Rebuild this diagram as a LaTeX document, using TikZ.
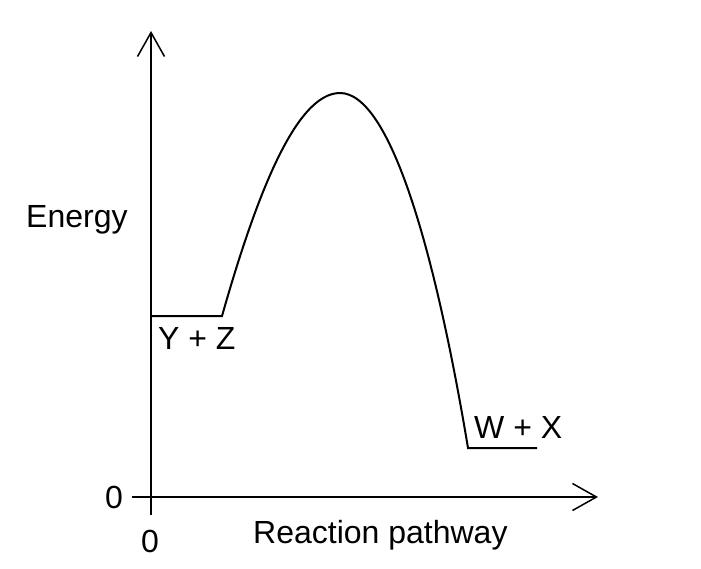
\documentclass[tikz,border=0pt]{standalone}
\usepackage{fontspec}
\setmainfont{Liberation Sans}
\usetikzlibrary{arrows.meta}
\tikzset{
	axis/.style={line width=1.5pt, -{Straight Barb[length=24pt,width=27pt,line width=1.5pt]}},
	lbl/.style={font=\fontsize{32}{36}\selectfont, inner sep=0pt, anchor=base west}
}
\begin{document}
\begin{tikzpicture}[x=1pt, y=-1pt]
	\useasboundingbox (0,0) rectangle (701,568);
	\coordinate (O) at (151,497);
	\coordinate (Ytop) at (151,31);
	\coordinate (Ybot) at (151,515);
	\coordinate (Xleft) at (132,497);
	\coordinate (Xright) at (598,497);
	\draw [axis] (Ybot) -- (Ytop);
	\draw [axis] (Xleft) -- (Xright);
	\coordinate (A) at (151,316);
	\coordinate (B) at (222,316);
	\coordinate (P) at (340,93);
	\coordinate (C) at (468,448);
	\coordinate (D) at (537,448);
	\draw [line width=2pt] (A) -- (B) .. controls (255,200) and (295,93) .. (P)
		.. controls (390,93) and (435,250) .. (C) -- (D);
	\node [lbl] (yz) at (158,349) {Y + Z};
	\node [lbl] (wx) at (474,438) {W + X};
	\node [lbl] (yzero) at (105,508) {0};
	\node [lbl] (xzero) at (141,552) {0};
	\node [lbl] (en) at (26,227) {Energy};
	\node [lbl] (rp) at (253,543) {Reaction pathway};
\end{tikzpicture}
\end{document}
